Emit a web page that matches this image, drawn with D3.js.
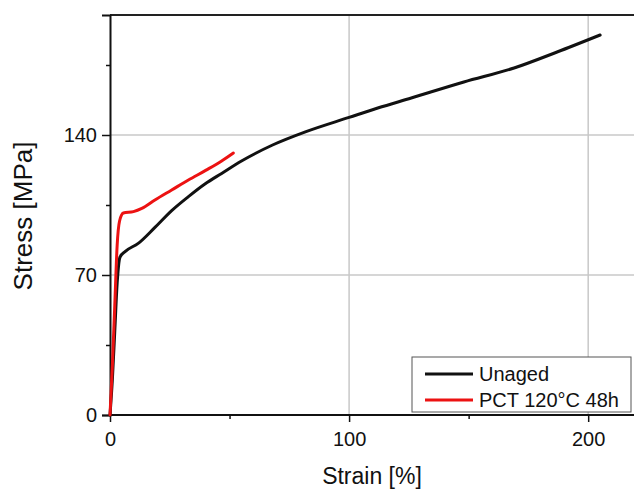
<!DOCTYPE html>
<html>
<head>
<meta charset="utf-8">
<script src="https://cdn.jsdelivr.net/npm/d3@7"></script>
<style>
  body { margin: 0; background: #fff; }
  svg { display: block; font-family: "Liberation Sans", Arial, sans-serif; }
</style>
</head>
<body>
<svg id="chart" width="634" height="489"></svg>
<script>
// values (strain in %, stress in MPa)
let unagedStrain = [0, 1, 2, 3, 4.2, 6.3, 11.8, 18.8, 25.8, 32.8, 39.7, 46.7, 55, 68, 82, 100, 112, 126, 148, 169, 187, 205];
let unagedStress = [0, 18, 42, 66, 79, 81.7, 85.8, 93.8, 102.2, 109.2, 115.5, 120.8, 127, 135, 141.7, 148.8, 153.5, 158.5, 166.5, 173.5, 181.5, 190];
let pctStrain = [0, 1, 2, 3, 4, 5.6, 9.8, 13.3, 18.8, 25.8, 32.8, 40, 46.7, 51.6];
let pctStress = [0, 25, 55, 85, 97, 101, 101.7, 103.3, 107.5, 112.5, 117.5, 122.3, 127, 131];

let seriesNames = ["Unaged", "PCT 120°C 48h"];
let seriesColors = ["#111111", "#ec1212"];
let xMajorTicks = [0, 100, 200];
let xMinorTicks = [50, 150];
let yMajorTicks = [0, 70, 140];
let yMinorTicks = [35, 105, 175];

let svg = d3.select('#chart');
let width = +svg.attr('width');

let x = d3.scaleLinear().domain([0, 220]).range([110, 636]);
let y = d3.scaleLinear().domain([0, 200]).range([415, 15]);

// grid
svg.append('g').selectAll('line').data([70, 140]).enter().append('line')
    .attr('x1', x(0)).attr('x2', width)
    .attr('y1', d => y(d)).attr('y2', d => y(d))
    .attr('stroke', '#c8c8c8').attr('stroke-width', 1.5);
svg.append('g').selectAll('line').data([100, 200]).enter().append('line')
    .attr('x1', d => x(d)).attr('x2', d => x(d))
    .attr('y1', y(200)).attr('y2', y(0))
    .attr('stroke', '#c8c8c8').attr('stroke-width', 1.5);

// top frame
svg.append('line')
    .attr('x1', x(0)).attr('x2', width)
    .attr('y1', y(200)).attr('y2', y(200))
    .attr('stroke', '#222').attr('stroke-width', 2);

// axes
let xAxis = svg.append('g')
    .attr('transform', 'translate(0,' + y(0) + ')')
    .call(d3.axisBottom(x).tickValues(xMajorTicks).tickSize(7).tickPadding(10).tickFormat(d3.format('d')));
svg.append('g')
    .attr('transform', 'translate(0,' + y(0) + ')')
    .call(d3.axisBottom(x).tickValues(xMinorTicks).tickSize(4).tickFormat(''))
    .select('.domain').remove();

let yAxis = svg.append('g')
    .attr('transform', 'translate(' + x(0) + ',0)')
    .call(d3.axisLeft(y).tickValues(yMajorTicks).tickSize(8).tickPadding(5).tickFormat(d3.format('d')));
svg.append('g')
    .attr('transform', 'translate(' + x(0) + ',0)')
    .call(d3.axisLeft(y).tickValues(yMinorTicks).tickSize(4).tickFormat(''))
    .select('.domain').remove();

svg.selectAll('.domain').attr('stroke', '#111').attr('stroke-width', 2);
svg.selectAll('.tick line').attr('stroke', '#111').attr('stroke-width', 1.5);
svg.selectAll('.tick text').attr('font-size', '20px').attr('fill', '#111')
    .attr('font-family', '"Liberation Sans", Arial, sans-serif');
xAxis.select('.domain').attr('d', 'M' + x(0) + ',0H' + width);

// axis titles
svg.append('text')
    .attr('x', 372).attr('y', 484)
    .attr('text-anchor', 'middle')
    .attr('font-size', '23px').attr('fill', '#111')
    .text('Strain [%]');
svg.append('text')
    .attr('transform', 'translate(32,216) rotate(-90)')
    .attr('text-anchor', 'middle')
    .attr('font-size', '26px').attr('fill', '#111')
    .text('Stress [MPa]');

// curves
let line = d3.line()
    .x(d => x(d[0]))
    .y(d => y(d[1]))
    .curve(d3.curveMonotoneX);

let series = [
    d3.zip(unagedStrain, unagedStress),
    d3.zip(pctStrain, pctStress)
];

svg.append('g').selectAll('path').data(series).enter().append('path')
    .attr('d', line)
    .attr('fill', 'none')
    .attr('stroke', (d, i) => seriesColors[i])
    .attr('stroke-width', 3)
    .attr('stroke-linejoin', 'round')
    .attr('stroke-linecap', 'round');

// legend
let legend = svg.append('g').attr('transform', 'translate(412,357)');
legend.append('rect')
    .attr('width', 219).attr('height', 55)
    .attr('fill', '#fff').attr('stroke', '#555').attr('stroke-width', 1);
let legendRow = legend.selectAll('.row').data(seriesNames).enter().append('g')
    .attr('class', 'row')
    .attr('transform', (d, i) => 'translate(0,' + (17 + i * 26) + ')');
legendRow.append('line')
    .attr('x1', 13).attr('x2', 61)
    .attr('stroke', (d, i) => seriesColors[i])
    .attr('stroke-width', 3);
legendRow.append('text')
    .attr('x', 67).attr('dy', '0.35em')
    .attr('font-size', '20px').attr('fill', '#111')
    .text(d => d);
</script>
</body>
</html>
